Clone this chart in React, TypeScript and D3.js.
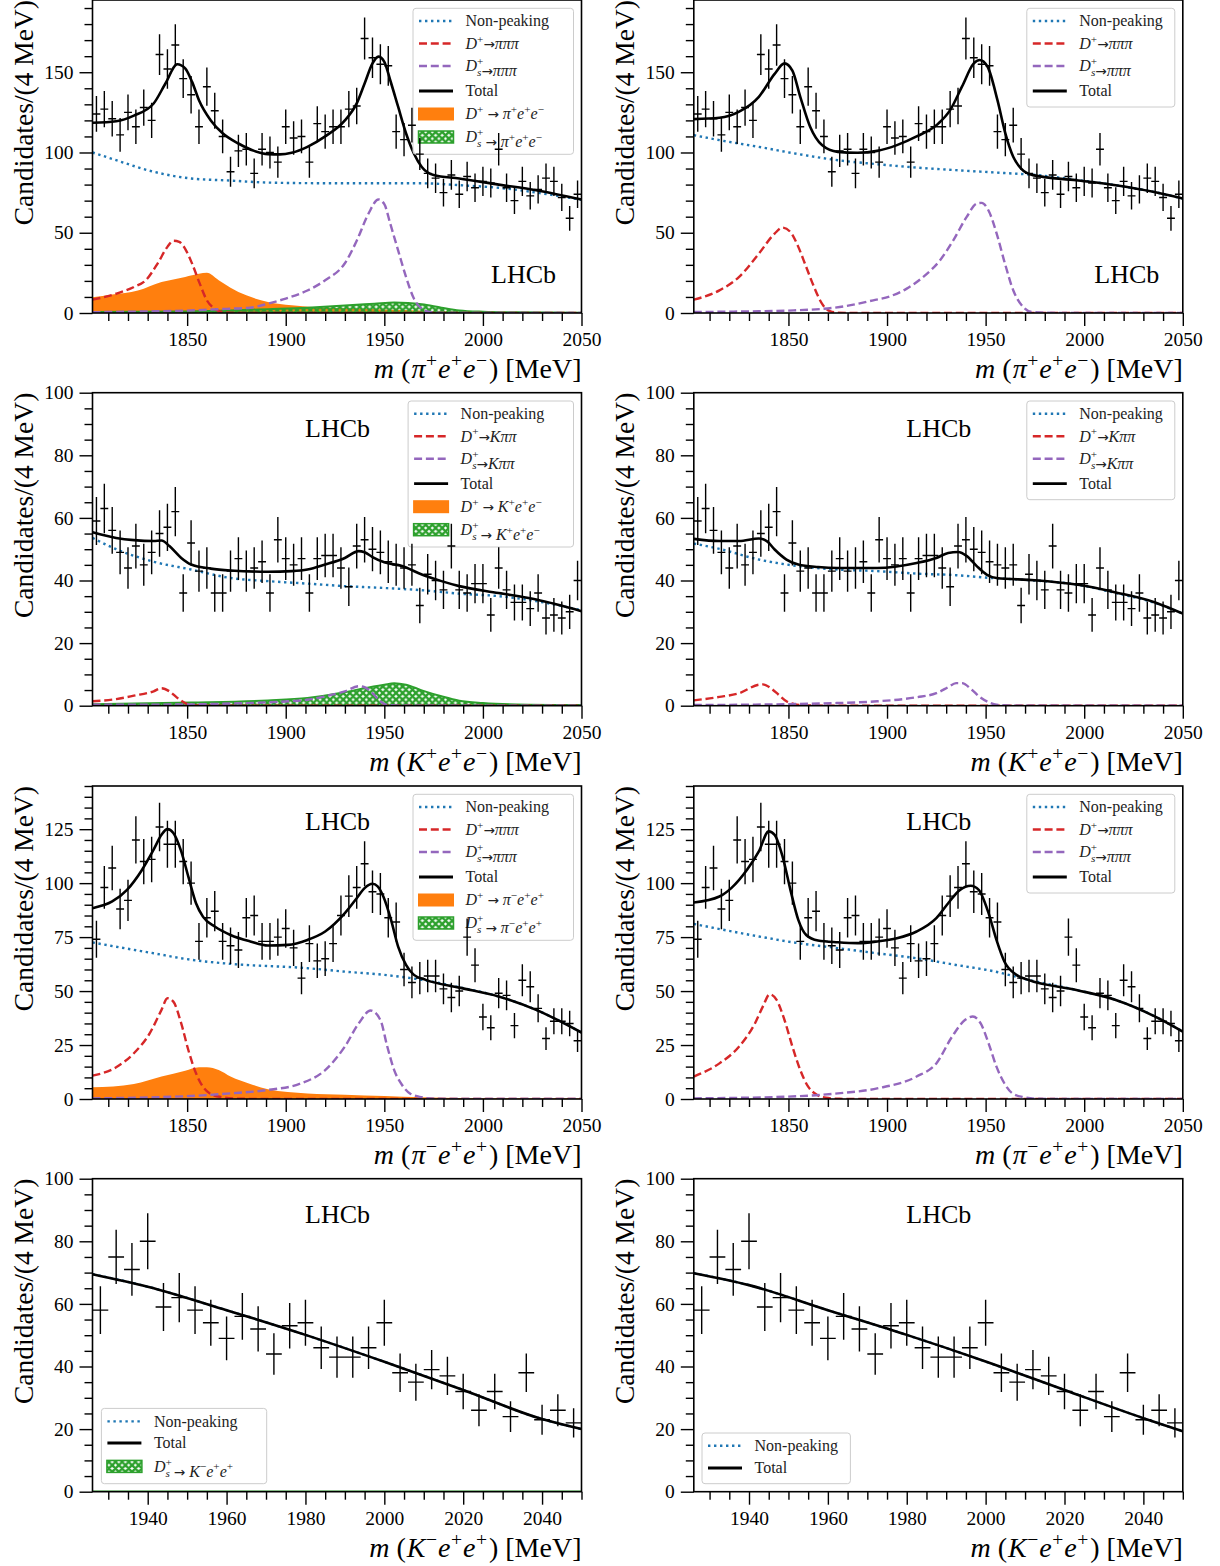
import React, { useEffect, useRef } from 'react';
import * as d3 from 'd3';

type P = [number, number];
const FONT = "'Liberation Serif', 'Times New Roman', serif";
const COL = { blue: '#1f77b4', orange: '#ff7f0e', green: '#2ca02c', red: '#d62728', purple: '#9467bd' };

// ---------------- data ----------------
const binsWide = d3.range(1804, 2049, 4); // 62 bin centres, 4 MeV bins
const binsNarrow = d3.range(1928, 2049, 4); // 31 bin centres

const countsPiEE = [124,127,121,111,125,116,128,120,161,152,167,146,136,116,141,126,110,88,101,102,87,102,100,94,116,109,110,94,118,113,116,116,127,129,171,159,155,154,113,108,117,99,87,84,75,86,74,85,78,82,81,102,78,70,82,73,77,84,82,72,59,74];
const countsKEE = [59,63,56,49,44,51,45,49,55,57,62,36,52,43,44,36,36,43,47,43,44,46,36,53,47,45,47,36,47,48,48,44,38,51,53,50,49,46,45,44,45,32,42,40,37,51,37,36,39,39,29,44,37,33,33,31,36,28,29,28,30,40];
const countsPiEEss = [74,98,107,88,92,120,110,111,126,118,118,110,100,73,84,87,73,71,69,84,85,73,73,75,79,70,56,72,64,65,72,85,94,98,109,96,95,84,82,60,54,56,57,57,51,47,50,75,62,38,33,49,48,34,55,52,42,28,36,36,35,27];
const countsKEEss = [58,75,71,80,59,62,58,54,49,56,52,44,53,54,46,43,43,46,54,38,35,39,37,32,26,32,24,38,23,26,22];

// fit curves, row 1 (pi+ e+ e-)
const total1L: P[] = [[1802,118.5],[1814,119.5],[1823,123],[1833,130.5],[1839,143],[1845,155],[1849,152.4],[1852.5,144],[1856,132.6],[1862,120],[1868,112],[1876,105.6],[1884,101],[1891,99],[1897,98.8],[1903,99.8],[1911,103.5],[1920,110],[1930,120],[1936,130.6],[1940,143],[1944,155.5],[1947,159.7],[1950,156.5],[1953,145],[1957,128.5],[1961,112],[1965,99.4],[1969,91],[1975,86],[1988,83.8],[2008,80],[2027,76.5],[2050,70.7]];
const nonpeak1L: P[] = [[1802,100],[1814,95.2],[1833,88],[1852,83.8],[1872,82.5],[1890,81.3],[1911,80.9],[1940,80.8],[1969,80.8],[1990,79.5],[2008,78],[2030,74.5],[2050,70.5]];
const red1L: P[] = [[1802,8.3],[1814,12],[1823,16.2],[1829,20.4],[1835,30.8],[1840,41.2],[1843,45],[1846,44.3],[1849,40],[1852.5,30.8],[1856.4,18.3],[1860,7.9],[1864,2.7],[1868,0.6],[1875,0],[2050,0]];
const purple1L: P[] = [[1802,0.5],[1830,1],[1850,1.5],[1870,2.6],[1882,3.3],[1891,5.8],[1900,9],[1911,14],[1920,20.4],[1930,31],[1936,45],[1942,62],[1947,70.7],[1950,67.8],[1953,55.7],[1957,39],[1961,22.5],[1965,9],[1969,2.7],[1973,0.6],[1980,0.1],[2050,0]];
const orange1L: P[] = [[1802,9.8],[1812,11.5],[1825,14],[1837,19.3],[1849,22.5],[1856,24.5],[1860,25],[1866,20.4],[1872,15.8],[1880,11],[1891,6.9],[1903,4.8],[1920,3.3],[1940,2.7],[1960,1.8],[1980,1],[2000,0.6],[2050,0.3]];
const green1L: P[] = [[1802,0.6],[1850,1],[1872,1.6],[1891,2.4],[1911,3.3],[1930,4.6],[1945,5.8],[1955,6.6],[1962,6.3],[1969,5.4],[1979,3.3],[1988,1.6],[2000,0.8],[2018,0.4],[2050,0.2]];

const total1R: P[] = [[1802,120.8],[1815,121.6],[1825,125.4],[1835,134.7],[1843,149],[1848,155.5],[1852,151],[1856,134.7],[1861,116],[1867,104.6],[1875,100.4],[1885,99.8],[1895,101],[1905,104.6],[1915,110],[1926,118],[1932,126.4],[1938,141],[1944,155.5],[1947,157.6],[1951,153.4],[1956,132.6],[1960,111.9],[1964,97.3],[1968,90],[1974,85.9],[1996,82.7],[2016,79.6],[2035,75.5],[2050,71.3]];
const nonpeak1R: P[] = [[1802,110.8],[1815,107.7],[1835,103.5],[1855,99],[1875,95.2],[1895,92.7],[1915,90.6],[1935,89],[1955,87.5],[1976,85.9],[1996,83],[2016,79.6],[2035,75.5],[2050,71.3]];
const red1R: P[] = [[1802,8.3],[1815,14.1],[1825,22.5],[1835,37],[1843,49.5],[1847,53.2],[1851,50.5],[1855,41.2],[1859,28.7],[1863,16.2],[1867,5.8],[1871,1.2],[1875,0.2],[1885,0],[2050,0]];
const purple1R: P[] = [[1802,0.6],[1830,1],[1850,1.5],[1876,3.7],[1893,7.9],[1901.5,10.4],[1910,15.2],[1918.4,22.5],[1926.9,32.9],[1933.6,45.3],[1940.4,59.9],[1945.5,68.2],[1948,68.6],[1951.4,64],[1955.6,49.5],[1959.8,30.8],[1964,14.2],[1968.3,4.8],[1973.4,0.6],[1985,0.1],[2050,0]];

// row 2 (K+ e+ e-)
const total2L: P[] = [[1802,55.4],[1814,53.6],[1823,52.9],[1833,52.6],[1837,52.8],[1841,51],[1847,47.2],[1852,45.1],[1862,43.8],[1872,43.2],[1891,42.8],[1903,43],[1911,43.5],[1920,45.1],[1930,47.2],[1937,49.4],[1940,49],[1944,47.5],[1950,45.8],[1959,44.6],[1969,41.9],[1979,39.8],[1988,38.2],[2008,36],[2027,33.9],[2050,30.2]];
const nonpeak2L: P[] = [[1802,53.6],[1814,50],[1833,46],[1852,43.5],[1872,40.8],[1891,39.8],[1911,39],[1930,38.2],[1950,37.6],[1969,36.9],[1988,35.8],[2008,35],[2027,33.4],[2050,30.5]];
const red2L: P[] = [[1802,1.4],[1814,2.1],[1823,3.2],[1833,4.6],[1837,5.6],[1841,4.6],[1845,2.5],[1849,0.85],[1853,0.2],[1860,0],[2050,0]];
const purple2L: P[] = [[1802,0.3],[1850,0.4],[1872,0.7],[1891,1.1],[1911,1.9],[1920,3],[1930,4.6],[1937,6.2],[1940,5.9],[1944,4],[1948,1.4],[1951,0.3],[1960,0],[2050,0]];
const green2L: P[] = [[1802,0.5],[1852,1],[1891,1.7],[1911,2.5],[1930,4.3],[1940,5.6],[1950,6.7],[1955,7.2],[1961,6.7],[1969,4.9],[1979,3],[1988,1.6],[2000,0.85],[2017,0.4],[2050,0.2]];

const total2R: P[] = [[1802,53.3],[1815,52.6],[1825,52.6],[1835,53.4],[1839,52.6],[1843,49.9],[1849,46.7],[1855,45.1],[1865,44.3],[1875,44],[1895,44],[1915,45.6],[1925,47.2],[1931,48.8],[1936,49.1],[1940.5,47.8],[1945.5,44.6],[1950.5,41.9],[1955.5,40.8],[1975,40.1],[1996,38.7],[2016,36.2],[2036,33],[2050,29.4]];
const nonpeak2R: P[] = [[1802,51.8],[1815,50.1],[1835,46.7],[1855,44.6],[1875,43.5],[1895,43],[1915,42.2],[1935,41.7],[1953,40.8],[1975,40],[1996,38.7],[2016,36],[2036,32.8],[2050,29.4]];
const red2R: P[] = [[1802,1.7],[1815,2.8],[1825,4],[1835,6.7],[1837,6.8],[1841,5.6],[1845,3.5],[1849,1.4],[1853,0.5],[1860,0.1],[1870,0],[2050,0]];
const purple2R: P[] = [[1802,0.2],[1850,0.5],[1875,0.85],[1895,1.4],[1915,2.7],[1925,4],[1931,5.9],[1935,7.2],[1938,7.2],[1943,5.1],[1947,2.8],[1951.5,1.1],[1955.5,0.3],[1965,0],[2050,0]];

// row 3 (pi- e+ e+)
const total3L: P[] = [[1802,88.4],[1812,91.5],[1819.5,96.9],[1827,106],[1833,115.5],[1837,122.4],[1840,125],[1843,123.2],[1847,114.7],[1850.6,103],[1854.5,90.7],[1858,84.5],[1864,79.9],[1872,76],[1882,73],[1891,71.1],[1901,71.4],[1911,73.7],[1920,77.6],[1930,86.1],[1936,93],[1940,97.7],[1944,99.7],[1946.6,98.5],[1949.5,93.8],[1953.4,83],[1957,70.6],[1961,62.1],[1965,57.5],[1971,55.2],[1988,51.6],[2008,47.5],[2027,41.3],[2050,30.8]];
const nonpeak3L: P[] = [[1802,72.5],[1833,67.5],[1852,64.5],[1872,62.6],[1911,60.6],[1930,59],[1950,57.5],[1969,55.2],[1988,51.8],[2008,47.5],[2027,41.3],[2050,30.8]];
const red3L: P[] = [[1802,10.8],[1814,14.7],[1823,21.2],[1831,30.4],[1837,41.3],[1840,46.7],[1843,45.1],[1847,35],[1850.6,22.7],[1854.5,11.9],[1858,5.7],[1862,2.3],[1868,0.8],[1876,0.15],[1890,0],[2050,0]];
const purple3L: P[] = [[1802,0.3],[1852,1.4],[1872,2.6],[1891,4.2],[1907,7],[1920,13.4],[1930,24.3],[1937,35],[1943,41],[1948,36.6],[1951.5,24.3],[1955,13.4],[1959,6.5],[1963,2.6],[1969,0.8],[1975,0.15],[1990,0],[2050,0]];
const orange3L: P[] = [[1802,5.4],[1823,7],[1837,10.4],[1849,13.1],[1856,14.7],[1860,14.7],[1866,13.4],[1872,10.4],[1882,7],[1891,4.5],[1911,2.6],[1930,2],[1950,1.4],[1969,0.8],[1988,0.5],[2050,0.3]];

const total3R: P[] = [[1802,91],[1815,93.8],[1821,97.7],[1829,106.2],[1835,114.7],[1840,124],[1843,122.4],[1847,112.4],[1851,96.9],[1855,83],[1859,76],[1865,73.4],[1875,72.6],[1885,72.2],[1895,73],[1905,74.5],[1915,77.6],[1925,83.8],[1931,90.7],[1937,96.9],[1942.5,98.8],[1946.5,96.9],[1951.5,86.1],[1955.5,73.7],[1959.5,63.7],[1965.6,57.5],[1971.6,55.2],[1996,50.5],[2016,45.9],[2036,38.2],[2050,31.2]];
const nonpeak3R: P[] = [[1802,81.1],[1835,75.3],[1855,72.2],[1875,69.9],[1895,67.5],[1915,65.2],[1935,62.1],[1955,59],[1971.6,55.2],[1996,50.5],[2016,45.9],[2036,38.2],[2050,31.2]];
const red3R: P[] = [[1802,10.4],[1815,16.5],[1825,24.3],[1833,35],[1837,42.8],[1840.5,48.5],[1844,45.9],[1848,36.6],[1852,24.3],[1856,13.4],[1860,5.7],[1864,2.2],[1869,0.6],[1876,0.1],[1890,0],[2050,0]];
const purple3R: P[] = [[1802,0.3],[1850,1.1],[1875,2.6],[1895,4.9],[1915,10.4],[1925,16.5],[1933,28.9],[1939.5,36.6],[1943.5,38.2],[1947.5,35],[1951.5,25.8],[1955.5,15],[1959.5,7.3],[1963.6,2.6],[1969.6,0.8],[1976,0.15],[1990,0],[2050,0]];

// row 4 (K- e+ e+)
const total4L: P[] = [[1926,69.5],[1940,65.5],[1960,58],[1980,50.1],[2000,41.5],[2020,32.5],[2040,23.2],[2050,20]];
const green4L: P[] = [[1926,0.1],[2050,0.1]];
const total4R: P[] = [[1926,69.8],[1940,66],[1960,58],[1980,50.1],[2000,41.6],[2020,32.5],[2040,23.5],[2050,19.3]];

// ticks
const xMajorWide = [1850, 1900, 1950, 2000, 2050];
const xMajorNarrow = [1940, 1960, 1980, 2000, 2020, 2040];
const yMajor1 = [0, 50, 100, 150];
const yMajor2 = [0, 20, 40, 60, 80, 100];
const yMajor3 = [0, 25, 50, 75, 100, 125];

// ---------------- text helpers ----------------
type Seg = { t: string; it?: boolean; pos?: 'sup' | 'sub'; dx?: number; arrow?: boolean };
const I = (t: string): Seg => ({ t, it: true });
const R = (t: string): Seg => ({ t });
const U = (t: string): Seg => ({ t, pos: 'sup' });
const A = (t: string): Seg => ({ t, arrow: true });

function rich(segs: Seg[], fs: number) {
  let cur = 0;
  return segs.map((s, i) => {
    const target = s.pos === 'sup' ? -0.38 * fs : s.pos === 'sub' ? 0.3 * fs : 0;
    const dy = target - cur;
    cur = target;
    return (
      <tspan
        key={i}
        dx={s.dx ?? 0}
        dy={dy}
        fontStyle={s.it ? 'italic' : 'normal'}
        fontFamily={s.arrow ? "'DejaVu Sans', sans-serif" : undefined}
        fontSize={s.pos ? fs * 0.7 : s.arrow ? fs * 0.85 : fs}
      >
        {s.t}
      </tspan>
    );
  });
}

const Dp: Seg[] = [I('D'), U('+')];
const Ds: Seg[] = [I('D'), U('+'), { t: 's', it: true, pos: 'sub', dx: -6.3 }, { t: '', dx: 1.9 }];

const labDpPPP: Seg[] = [...Dp, A('→'), I('πππ')];
const labDsPPP: Seg[] = [...Ds, A('→'), I('πππ')];
const labDpKPP: Seg[] = [...Dp, A('→'), I('Kππ')];
const labDsKPP: Seg[] = [...Ds, A('→'), I('Kππ')];
const finalState = (h: string, hc: string, c1: string, c2: string): Seg[] => [I(h), U(hc), I('e'), U(c1), I('e'), U(c2)];
const arrowSp: Seg[] = [R(' '), A('→'), R(' ')];
const labDpPiEE: Seg[] = [...Dp, ...arrowSp, ...finalState('π', '+', '+', '−')];
const labDsPiEE: Seg[] = [...Ds, ...arrowSp, ...finalState('π', '+', '+', '−')];
const labDpKEE: Seg[] = [...Dp, ...arrowSp, ...finalState('K', '+', '+', '−')];
const labDsKEE: Seg[] = [...Ds, ...arrowSp, ...finalState('K', '+', '+', '−')];
const labDpPiSS: Seg[] = [...Dp, ...arrowSp, ...finalState('π', '−', '+', '+')];
const labDsPiSS: Seg[] = [...Ds, ...arrowSp, ...finalState('π', '−', '+', '+')];
const labDsKSS: Seg[] = [...Ds, ...arrowSp, ...finalState('K', '−', '+', '+')];

const xlab = (h: string, hc: string, c1: string, c2: string): Seg[] => [
  I('m'),
  R(' ('),
  { t: h, it: true, dx: 1 },
  { t: hc, pos: 'sup', dx: 0.5 },
  { t: 'e', it: true, dx: 1 },
  { t: c1, pos: 'sup', dx: 0.5 },
  { t: 'e', it: true, dx: 1 },
  { t: c2, pos: 'sup', dx: 0.5 },
  { t: ')', dx: 2 },
  R(' [MeV]'),
];

type Kind = 'dot' | 'red' | 'purple' | 'total' | 'orange' | 'green';
type Entry = { kind: Kind; label: Seg[] };

// ---------------- components ----------------
function AxisG({ scale, orient, values, size, labels, transform }: any) {
  const ref = useRef<SVGGElement>(null);
  useEffect(() => {
    const g = d3.select(ref.current as SVGGElement);
    const base = orient === 'bottom' ? d3.axisBottom(scale) : d3.axisLeft(scale);
    const ax = base
      .tickValues(values)
      .tickSize(size)
      .tickPadding(6)
      .tickFormat(labels ? (d: any) => String(d) : () => '');
    g.call(ax as any);
    g.select('.domain').remove();
    g.attr('font-family', FONT).attr('font-size', 19.5);
    g.selectAll('line').attr('stroke', '#000').attr('stroke-width', 1.4);
    g.selectAll('text').attr('font-family', FONT).attr('font-size', 19.5).attr('fill', '#000');
  });
  return <g ref={ref} transform={transform} />;
}

const W = 489;
const H = 313;

function Panel(props: any) {
  const { id, x0, y0, xDom, yDom, xMajor, xMinorStep, yMajorT, yMinorStep, bins, counts, curves, legend, lhcb, xlabel } = props;
  const x = d3.scaleLinear().domain(xDom).range([x0, x0 + W]);
  const y = d3.scaleLinear().domain(yDom).range([y0 + H, y0]);
  const line = d3.line<P>().x((d) => x(d[0])).y((d) => y(d[1])).curve(d3.curveMonotoneX);
  const area = d3.area<P>().x((d) => x(d[0])).y0(y(0)).y1((d) => y(d[1])).curve(d3.curveMonotoneX);
  const xMinor = d3
    .range(Math.ceil(xDom[0] / xMinorStep) * xMinorStep, xDom[1] + 0.001, xMinorStep)
    .filter((v) => !xMajor.includes(v));
  const yMinor = d3.range(0, yDom[1] + 0.001, yMinorStep).filter((v) => !yMajorT.includes(v));

  const err = bins
    .map((c: number, i: number) => {
      const n = counts[i];
      const s = Math.sqrt(n);
      return `M${x(c - 2)},${y(n)}H${x(c + 2)}M${x(c)},${y(n - s)}V${y(n + s)}`;
    })
    .join('');

  const lfs = 16;
  const bx = legend.left != null ? x0 + legend.left : x0 + W - 8 - legend.w;
  const by = legend.top != null ? y0 + legend.top : y0 + H - 8 - legend.h;

  const handle = (kind: Kind, cy: number, key: number) => {
    const hx1 = bx + 6;
    const hx2 = bx + 40;
    switch (kind) {
      case 'dot':
        return <line key={key} x1={hx1} x2={hx2} y1={cy} y2={cy} stroke={COL.blue} strokeWidth={2.4} strokeDasharray="2.4 3.6" />;
      case 'red':
        return <line key={key} x1={hx1} x2={hx2} y1={cy} y2={cy} stroke={COL.red} strokeWidth={2.4} strokeDasharray="8 3.8" />;
      case 'purple':
        return <line key={key} x1={hx1} x2={hx2} y1={cy} y2={cy} stroke={COL.purple} strokeWidth={2.4} strokeDasharray="8 3.8" />;
      case 'total':
        return <line key={key} x1={hx1} x2={hx2} y1={cy} y2={cy} stroke="#000" strokeWidth={2.8} />;
      case 'orange':
        return <rect key={key} x={bx + 5} y={cy - 6.5} width={36} height={13} fill={COL.orange} />;
      case 'green':
        return <rect key={key} x={bx + 5.5} y={cy - 6} width={35} height={12} fill="url(#hatch)" stroke={COL.green} strokeWidth={1.5} />;
    }
  };

  return (
    <g>
      <defs>
        <clipPath id={`clip-${id}`}>
          <rect x={x0} y={y0} width={W} height={H} />
        </clipPath>
      </defs>
      <g clipPath={`url(#clip-${id})`}>
        {curves.orange && <path d={area(curves.orange) as string} fill={COL.orange} />}
        {curves.green && (
          <g>
            <path d={area(curves.green) as string} fill="url(#hatch)" />
            <path d={line(curves.green) as string} fill="none" stroke={COL.green} strokeWidth={2} />
          </g>
        )}
        {curves.nonpeak && (
          <path d={line(curves.nonpeak) as string} fill="none" stroke={COL.blue} strokeWidth={2.4} strokeDasharray="2.4 3.6" />
        )}
        {curves.red && <path d={line(curves.red) as string} fill="none" stroke={COL.red} strokeWidth={2.4} strokeDasharray="8 3.8" />}
        {curves.purple && (
          <path d={line(curves.purple) as string} fill="none" stroke={COL.purple} strokeWidth={2.4} strokeDasharray="8 3.8" />
        )}
        <path d={line(curves.total) as string} fill="none" stroke="#000" strokeWidth={2.6} />
      </g>

      {/* legend */}
      <g>
        <rect x={bx} y={by} width={legend.w} height={legend.h} rx={3} fill="#fff" fillOpacity={0.85} stroke="#cccccc" strokeWidth={1} />
        {legend.entries.map((e: Entry, i: number) => {
          const cy = by + legend.offs[i];
          return (
            <g key={i}>
              {handle(e.kind, cy, i)}
              <text x={bx + 52.5} y={cy + 5.3} fontFamily={FONT} fontSize={lfs} fill="#222" style={{ whiteSpace: 'pre' }}>
                {rich(e.label, lfs)}
              </text>
            </g>
          );
        })}
      </g>

      {/* data */}
      <path d={err} fill="none" stroke="#000" strokeWidth={1.4} />

      {/* frame */}
      <rect x={x0} y={y0} width={W} height={H} fill="none" stroke="#000" strokeWidth={1.6} />

      {/* axes */}
      <AxisG scale={x} orient="bottom" values={xMajor} size={13} labels transform={`translate(0,${y0 + H})`} />
      <AxisG scale={x} orient="bottom" values={xMinor} size={8} labels={false} transform={`translate(0,${y0 + H})`} />
      <AxisG scale={y} orient="left" values={yMajorT} size={13} labels transform={`translate(${x0},0)`} />
      <AxisG scale={y} orient="left" values={yMinor} size={8} labels={false} transform={`translate(${x0},0)`} />

      {/* LHCb */}
      <text x={x0 + lhcb[0]} y={y0 + lhcb[1]} textAnchor="middle" fontFamily={FONT} fontSize={26} fill="#000">
        LHCb
      </text>

      {/* x label */}
      <text x={x0 + W} y={y0 + H + 65} textAnchor="end" fontFamily={FONT} fontSize={28} fill="#000" style={{ whiteSpace: 'pre' }}>
        {rich(xlabel, 28)}
      </text>

      {/* y label */}
      <text
        transform={`translate(${x0 - 60},${y0}) rotate(-90)`}
        textAnchor="end"
        fontFamily={FONT}
        fontSize={27.5}
        fill="#000"
      >
        Candidates/(4 MeV)
      </text>
    </g>
  );
}

const off6 = [12.7, 35.2, 57.7, 82.7, 105.7, 128.7];
const off4 = [12.7, 35.2, 57.7, 82.7];

export default function App() {
  const XL = 92.5;
  const XR = 693.8;
  const rows = [0, 392.7, 786, 1178.7];

  const ePi6: Entry[] = [
    { kind: 'dot', label: [R('Non-peaking')] },
    { kind: 'red', label: labDpPPP },
    { kind: 'purple', label: labDsPPP },
    { kind: 'total', label: [R('Total')] },
    { kind: 'orange', label: labDpPiEE },
    { kind: 'green', label: labDsPiEE },
  ];
  const ePi4 = ePi6.slice(0, 4);
  const eK6: Entry[] = [
    { kind: 'dot', label: [R('Non-peaking')] },
    { kind: 'red', label: labDpKPP },
    { kind: 'purple', label: labDsKPP },
    { kind: 'total', label: [R('Total')] },
    { kind: 'orange', label: labDpKEE },
    { kind: 'green', label: labDsKEE },
  ];
  const eK4 = eK6.slice(0, 4);
  const ePiSS6: Entry[] = [...ePi4, { kind: 'orange', label: labDpPiSS }, { kind: 'green', label: labDsPiSS }];
  const eKSS3: Entry[] = [
    { kind: 'dot', label: [R('Non-peaking')] },
    { kind: 'total', label: [R('Total')] },
    { kind: 'green', label: labDsKSS },
  ];
  const eKSS2 = eKSS3.slice(0, 2);

  const wide = { xDom: [1802, 2050], xMajor: xMajorWide, xMinorStep: 10, bins: binsWide };
  const narrow = { xDom: [1926, 2050], xMajor: xMajorNarrow, xMinorStep: 5, bins: binsNarrow };
  const r1 = { yDom: [0, 195], yMajorT: yMajor1, yMinorStep: 10 };
  const r2 = { yDom: [0, 100], yMajorT: yMajor2, yMinorStep: 5 };
  const r3 = { yDom: [0, 145], yMajorT: yMajor3, yMinorStep: 5 };

  return (
    <svg width={1220} height={1566} style={{ position: 'absolute', left: 0, top: 0, background: '#fff' }}>
      <defs>
        <pattern id="hatch" patternUnits="userSpaceOnUse" width={6.6} height={6.6}>
          <path d="M0,0L6.6,6.6M6.6,0L0,6.6M-1,5.6L1,7.6M5.6,-1L7.6,1M-1,1L1,-1M5.6,7.6L7.6,5.6" stroke={COL.green} strokeWidth={2.4} />
        </pattern>
      </defs>
      <rect x={0} y={0} width={1220} height={1566} fill="#fff" />

      <Panel id="a" x0={XL} y0={rows[0]} {...wide} {...r1} counts={countsPiEE}
        curves={{ orange: orange1L, green: green1L, nonpeak: nonpeak1L, red: red1L, purple: purple1L, total: total1L }}
        legend={{ w: 160.5, h: 146, top: 8.3, entries: ePi6, offs: off6 }} lhcb={[431, H - 30]}
        xlabel={xlab('π', '+', '+', '−')} />
      <Panel id="b" x0={XR} y0={rows[0]} {...wide} {...r1} counts={countsPiEE}
        curves={{ nonpeak: nonpeak1R, red: red1R, purple: purple1R, total: total1R }}
        legend={{ w: 148, h: 98.7, top: 8.3, entries: ePi4, offs: off4 }} lhcb={[433, H - 30]}
        xlabel={xlab('π', '+', '+', '−')} />

      <Panel id="c" x0={XL} y0={rows[1]} {...wide} {...r2} counts={countsKEE}
        curves={{ green: green2L, nonpeak: nonpeak2L, red: red2L, purple: purple2L, total: total2L }}
        legend={{ w: 165.4, h: 146, top: 8.3, entries: eK6, offs: off6 }} lhcb={[245, 44]}
        xlabel={xlab('K', '+', '+', '−')} />
      <Panel id="d" x0={XR} y0={rows[1]} {...wide} {...r2} counts={countsKEE}
        curves={{ nonpeak: nonpeak2R, red: red2R, purple: purple2R, total: total2R }}
        legend={{ w: 148, h: 98.7, top: 8.3, entries: eK4, offs: off4 }} lhcb={[245, 44]}
        xlabel={xlab('K', '+', '+', '−')} />

      <Panel id="e" x0={XL} y0={rows[2]} {...wide} {...r3} counts={countsPiEEss}
        curves={{ orange: orange3L, nonpeak: nonpeak3L, red: red3L, purple: purple3L, total: total3L }}
        legend={{ w: 160.5, h: 146, top: 8.3, entries: ePiSS6, offs: off6 }} lhcb={[245, 44]}
        xlabel={xlab('π', '−', '+', '+')} />
      <Panel id="f" x0={XR} y0={rows[2]} {...wide} {...r3} counts={countsPiEEss}
        curves={{ nonpeak: nonpeak3R, red: red3R, purple: purple3R, total: total3R }}
        legend={{ w: 148, h: 98.7, top: 8.3, entries: ePi4, offs: off4 }} lhcb={[245, 44]}
        xlabel={xlab('π', '−', '+', '+')} />

      <Panel id="g" x0={XL} y0={rows[3]} {...narrow} {...r2} counts={countsKEEss}
        curves={{ green: green4L, nonpeak: total4L, total: total4L }}
        legend={{ w: 165.3, h: 75.3, left: 8.9, entries: eKSS3, offs: [13, 34.6, 58] }} lhcb={[245, 44]}
        xlabel={xlab('K', '−', '+', '+')} />
      <Panel id="h" x0={XR} y0={rows[3]} {...narrow} {...r2} counts={countsKEEss}
        curves={{ nonpeak: total4R, total: total4R }}
        legend={{ w: 148.4, h: 50.7, left: 8.2, entries: eKSS2, offs: [12.7, 35] }} lhcb={[245, 44]}
        xlabel={xlab('K', '−', '+', '+')} />
    </svg>
  );
}
